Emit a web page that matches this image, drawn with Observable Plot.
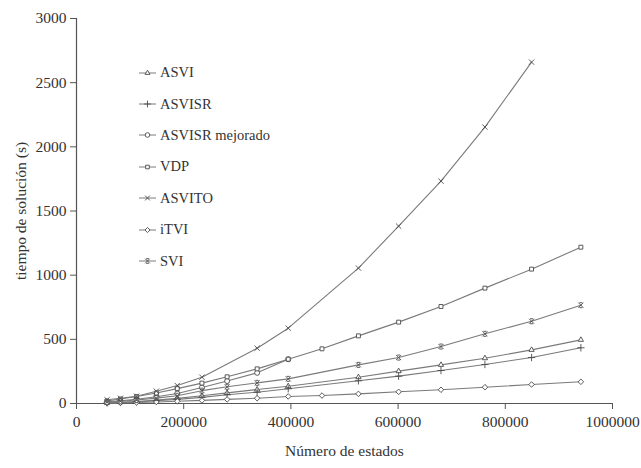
<!DOCTYPE html>
<html>
<head>
<meta charset="utf-8">
<script src="https://cdn.jsdelivr.net/npm/d3@7"></script>
<script src="https://cdn.jsdelivr.net/npm/@observablehq/plot@0.6"></script>
<style>
  html, body { margin: 0; padding: 0; background: #fff; }
  #wrap { position: relative; width: 641px; height: 468px; font-family: "Liberation Serif", "Times New Roman", serif; }
  #legend { position: absolute; left: 139px; top: 57px; font-size: 14.5px; color: #333; }
  #legend .row { height: 31.4px; display: flex; align-items: center; }
  #legend svg { margin-right: 3px; overflow: visible; }
</style>
</head>
<body>
<div id="wrap"></div>
<script>
// Number of states (x) shared grid
const states = [57000, 82000, 112000, 149000, 188000, 234000, 281000, 337000, 395000, 458000, 526000, 601000, 680000, 762000, 849000, 941000];

// solution time (s) per method; null = no point
const ASVI            = [6, 10, 16, 26, 40, 60, 83, 109, 135, null, 205, 252, 301, 353, 418, 496];
const ASVISR          = [5, 8, 13, 21, 32, 48, 68, 88, 115, null, 177, 213, 257, 304, 358, 434];
const ASVISR_mejorado = [14, 22, 33, 52, 78, 125, 175, 239, 345, null, null, null, null, null, null, null];
const VDP             = [20, 35, 54, 82, 116, 159, 208, 270, 345, 426, 527, 634, 756, 899, 1047, 1218];
const ASVITO          = [29, 41, 57, 96, 140, 205, null, 431, 587, null, 1055, 1382, 1733, 2154, 2660, null];
const iTVI            = [3, 5, 8, 12, 17, 24, 32, 41, 55, 62, 75, 91, 107, 127, 148, 169];
const SVI             = [10, 17, 27, 42, 60, 100, 130, 161, 192, null, 301, 358, 444, 543, 641, 766];

const seriesNames = ["ASVI", "ASVISR", "ASVISR mejorado", "VDP", "ASVITO", "iTVI", "SVI"];
const seriesValues = [ASVI, ASVISR, ASVISR_mejorado, VDP, ASVITO, iTVI, SVI];

const xTicks = [0, 200000, 400000, 600000, 800000, 1000000];
const yTicks = [0, 500, 1000, 1500, 2000, 2500, 3000];

// star-like symbol: x with horizontal bars
const symStar = {
  draw(ctx, size) {
    const r = Math.sqrt(size / Math.PI) * 1.0;
    ctx.moveTo(-r, -r); ctx.lineTo(r, r);
    ctx.moveTo(r, -r); ctx.lineTo(-r, r);
    ctx.moveTo(-r * 0.6, -r); ctx.lineTo(r * 0.6, -r);
    ctx.moveTo(-r * 0.6, r); ctx.lineTo(r * 0.6, r);
  }
};
const symbols = {
  "ASVI": d3.symbolTriangle2,
  "ASVISR": d3.symbolPlus,
  "ASVISR mejorado": d3.symbolCircle,
  "VDP": d3.symbolSquare2,
  "ASVITO": d3.symbolTimes,
  "iTVI": d3.symbolDiamond2,
  "SVI": symStar
};
const openNames = ["ASVITO", "ASVISR", "SVI"];

const rows = [];
seriesNames.forEach((name, i) => {
  seriesValues[i].forEach((v, j) => {
    if (v != null) rows.push({series: name, x: states[j], y: v});
  });
});

const lineColor = "#7a7a7a";
const markColor = "#4a4a4a";

const marks = [
  Plot.ruleY([0], {stroke: "#555", strokeWidth: 1.2}),
  Plot.ruleX([0], {stroke: "#555", strokeWidth: 1.2}),
  Plot.axisX({ticks: xTicks, tickFormat: d3.format("d"), tickSize: 6, tickPadding: 6, fontSize: 15.5, label: "Número de estados", labelAnchor: "center", labelOffset: 52, labelArrow: "none", stroke: "#555", color: "#333"}),
  Plot.axisY({ticks: yTicks, tickFormat: d3.format("d"), tickSize: 6, tickPadding: 4, fontSize: 15.5, label: "tiempo de solución (s)", labelAnchor: "center", labelOffset: 62, labelArrow: "none", stroke: "#555", color: "#333"})
];
seriesNames.forEach(name => {
  const data = rows.filter(d => d.series === name);
  marks.push(Plot.line(data, {x: "x", y: "y", stroke: lineColor, strokeWidth: 1.1}));
  marks.push(Plot.dot(data, {x: "x", y: "y", symbol: () => symbols[name], r: 2.5, stroke: markColor, strokeWidth: 0.9, fill: openNames.includes(name) ? "none" : "white"}));
});

const chart = Plot.plot({
  width: 641,
  height: 468,
  marginLeft: 76,
  marginRight: 29,
  marginTop: 18,
  marginBottom: 65,
  style: {fontFamily: "'Liberation Serif', 'Times New Roman', serif", fontSize: "15.5px", color: "#333", background: "white"},
  x: {domain: [0, 1000000]},
  y: {domain: [0, 3000]},
  symbol: {type: "identity"},
  marks
});
const wrap = document.getElementById("wrap");
wrap.appendChild(chart);

// legend
const leg = document.createElement("div");
leg.id = "legend";
seriesNames.forEach(name => {
  const row = document.createElement("div");
  row.className = "row";
  const svg = d3.create("svg").attr("width", 18).attr("height", 10);
  svg.append("line").attr("x1", 0).attr("x2", 17).attr("y1", 5).attr("y2", 5).attr("stroke", lineColor).attr("stroke-width", 1);
  svg.append("path").attr("transform", "translate(8.5,5)")
    .attr("d", d3.symbol(symbols[name], 2.3 * 2.3 * Math.PI)())
    .attr("fill", openNames.includes(name) ? "none" : "white")
    .attr("stroke", markColor).attr("stroke-width", 0.9);
  row.appendChild(svg.node());
  const span = document.createElement("span");
  span.textContent = name;
  row.appendChild(span);
  leg.appendChild(row);
});
wrap.appendChild(leg);
</script>
</body>
</html>
